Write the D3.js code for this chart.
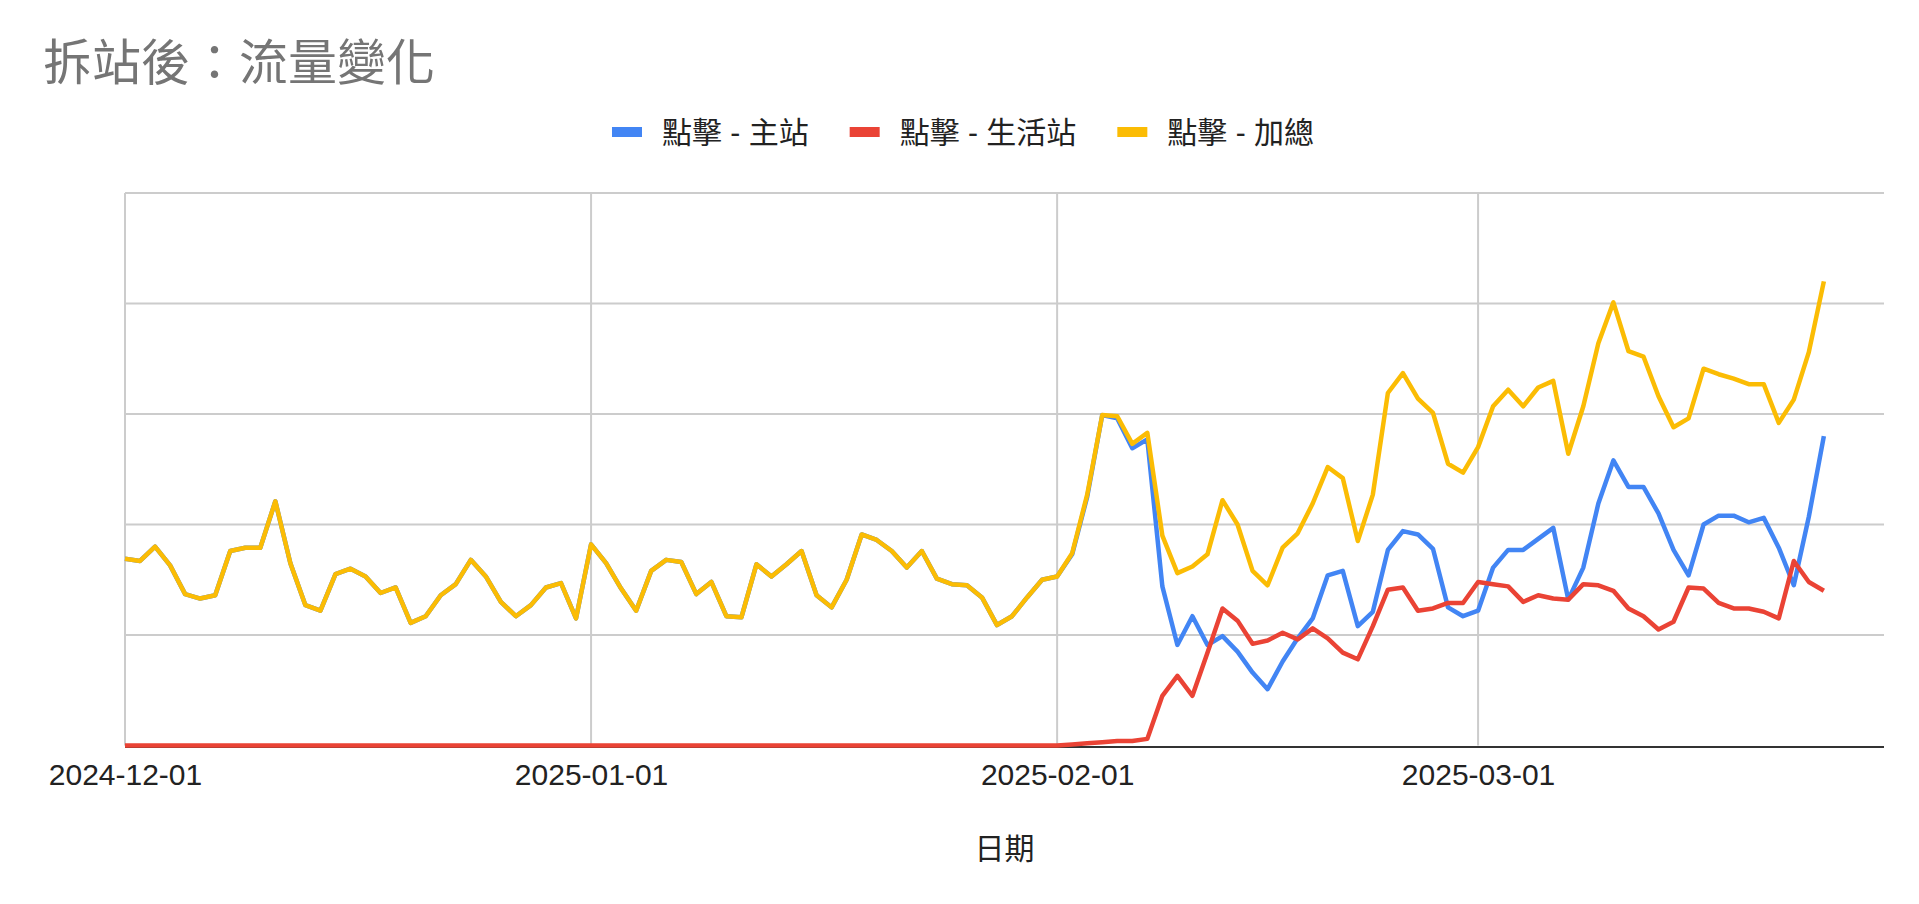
<!DOCTYPE html>
<html><head><meta charset="utf-8">
<script src="https://cdn.jsdelivr.net/npm/d3@7"></script>
<style>body{margin:0;background:#fff;overflow:hidden;} svg{display:block;}</style>
</head><body><svg id="chart" width="1919" height="904"></svg>
<script>
const chartTitle = "拆站後：流量變化";
const xAxisTitle = "日期";
const seriesNames = ["點擊 - 主站", "點擊 - 生活站", "點擊 - 加總"];
const firstDay = "2024-12-01";
const lastDay = "2025-03-24";
const domainEnd = "2025-03-28";
const tickLabels = ["2024-12-01", "2025-01-01", "2025-02-01", "2025-03-01"];
const yTicks = [0, 100, 200, 300, 400, 500];

const mainClicks = [
  169,167,180,163,137,133,136,176,179,179,
  221,165,127,122,155,160,153,138,143,111,
  117,136,146,168,153,130,117,127,143,147,
  115,182,165,142,122,158,168,166,137,148,
  117,116,164,153,164,176,136,125,150,191,
  186,176,161,176,151,146,145,134,109,117,
  134,150,153,173,225,299,296,269,277,144,
  91,117,91,99,85,66,51,76,97,115,
  154,158,108,121,177,194,191,178,125,117,
  122,161,177,177,187,197,132,161,219,258,
  234,234,210,177,154,200,208,208,202,206,
  179,145,207,280
];
const lifeClicks = [
  0,0,0,0,0,0,0,0,0,0,
  0,0,0,0,0,0,0,0,0,0,
  0,0,0,0,0,0,0,0,0,0,
  0,0,0,0,0,0,0,0,0,0,
  0,0,0,0,0,0,0,0,0,0,
  0,0,0,0,0,0,0,0,0,0,
  0,0,0,1,2,3,4,4,6,45,
  63,45,84,124,113,92,95,102,96,106,
  97,84,78,108,141,143,122,124,129,129,
  148,146,144,130,136,133,132,146,145,140,
  124,117,105,112,143,142,129,124,124,121,
  115,167,148,140
];
const totalClicks = [
  169,167,180,163,137,133,136,176,179,179,
  221,165,127,122,155,160,153,138,143,111,
  117,136,146,168,153,130,117,127,143,147,
  115,182,165,142,122,158,168,166,137,148,
  117,116,164,153,164,176,136,125,150,191,
  186,176,161,176,151,146,145,134,109,117,
  134,150,153,174,227,299,298,273,283,190,
  156,162,173,222,200,158,145,179,192,219,
  252,242,185,227,319,337,314,301,255,247,
  270,307,322,307,324,330,264,307,364,401,
  357,352,316,288,296,341,336,332,327,327,
  292,313,356,420
];

const colors = ["#4285F4", "#EA4335", "#FBBC04"];
const svg = d3.select("#chart");
const W = 1919, H = 904;
const plot = {left: 125, right: 1884, top: 193, bottom: 745.5};
const parse = d3.utcParse("%Y-%m-%d");
const dates = d3.utcDay.range(parse(firstDay), d3.utcDay.offset(parse(lastDay), 1));

const x = d3.scaleUtc().domain([parse(firstDay), parse(domainEnd)]).range([plot.left, plot.right]);
const y = d3.scaleLinear().domain([0, 500]).range([plot.bottom, plot.top]);

svg.append("rect").attr("width", W).attr("height", H).attr("fill", "#fff");

// horizontal gridlines
svg.append("g").selectAll("line").data(yTicks.filter(v => v > 0)).join("line")
  .attr("x1", plot.left).attr("x2", plot.right)
  .attr("y1", d => y(d)).attr("y2", d => y(d))
  .attr("stroke", "#cccccc").attr("stroke-width", 2);

// vertical gridlines at month starts
const tickDates = tickLabels.map(parse);
svg.append("g").selectAll("line").data(tickDates).join("line")
  .attr("x1", d => x(d)).attr("x2", d => x(d))
  .attr("y1", plot.top).attr("y2", plot.bottom)
  .attr("stroke", "#cccccc").attr("stroke-width", 2);

// baseline (drawn beneath the series)
svg.append("line").attr("x1", plot.left).attr("x2", plot.right)
  .attr("y1", y(0) + 1.5).attr("y2", y(0) + 1.5).attr("stroke", "#333").attr("stroke-width", 2);

// x axis labels
const xAxis = d3.axisBottom(x).tickValues(tickDates).tickFormat((d, i) => tickLabels[i]).tickSize(0).tickPadding(0);
const gx = svg.append("g").attr("transform", `translate(0,${plot.bottom})`).call(xAxis);
gx.select(".domain").remove();
gx.selectAll("text").attr("y", 39.5).attr("dy", 0)
  .attr("font-family", "Arial, 'Liberation Sans', sans-serif").attr("font-size", 30).attr("fill", "#222");

// series lines
const seriesData = [mainClicks, lifeClicks, totalClicks];
const line = d3.line().x((d, i) => x(dates[i])).y(d => y(d));
seriesData.forEach((vals, k) => {
  svg.append("path").datum(vals).attr("d", line)
    .attr("fill", "none").attr("stroke", colors[k]).attr("stroke-width", 4.5)
    .attr("stroke-linejoin", "round").attr("stroke-linecap", "butt");
});

// title
svg.append("text").text(chartTitle).attr("x", 43).attr("y", 80)
  .attr("font-family", "'Noto Sans CJK TC', sans-serif").attr("font-size", 49).attr("fill", "#757575");

// x axis title
svg.append("text").text(xAxisTitle).attr("x", (plot.left + plot.right) / 2).attr("y", 859)
  .attr("text-anchor", "middle")
  .attr("font-family", "Arial, 'Liberation Sans', 'Noto Sans CJK TC', sans-serif").attr("font-size", 30).attr("fill", "#222");

// legend
const legend = svg.append("g");
let cx = 0;
seriesNames.forEach((name, k) => {
  const g = legend.append("g");
  g.append("rect").attr("x", 0).attr("y", -5).attr("width", 30).attr("height", 10).attr("fill", colors[k]);
  const t = g.append("text").text(name).attr("x", 50).attr("y", 0).attr("dy", "0.36em")
    .attr("font-family", "Arial, 'Liberation Sans', 'Noto Sans CJK TC', sans-serif").attr("font-size", 30).attr("fill", "#222");
  const w = 50 + t.node().getComputedTextLength();
  g.attr("transform", `translate(${cx},0)`);
  cx += w + 41;
});
const legendW = cx - 41;
legend.attr("transform", `translate(${963 - legendW / 2},132)`);
</script>
</body></html>
